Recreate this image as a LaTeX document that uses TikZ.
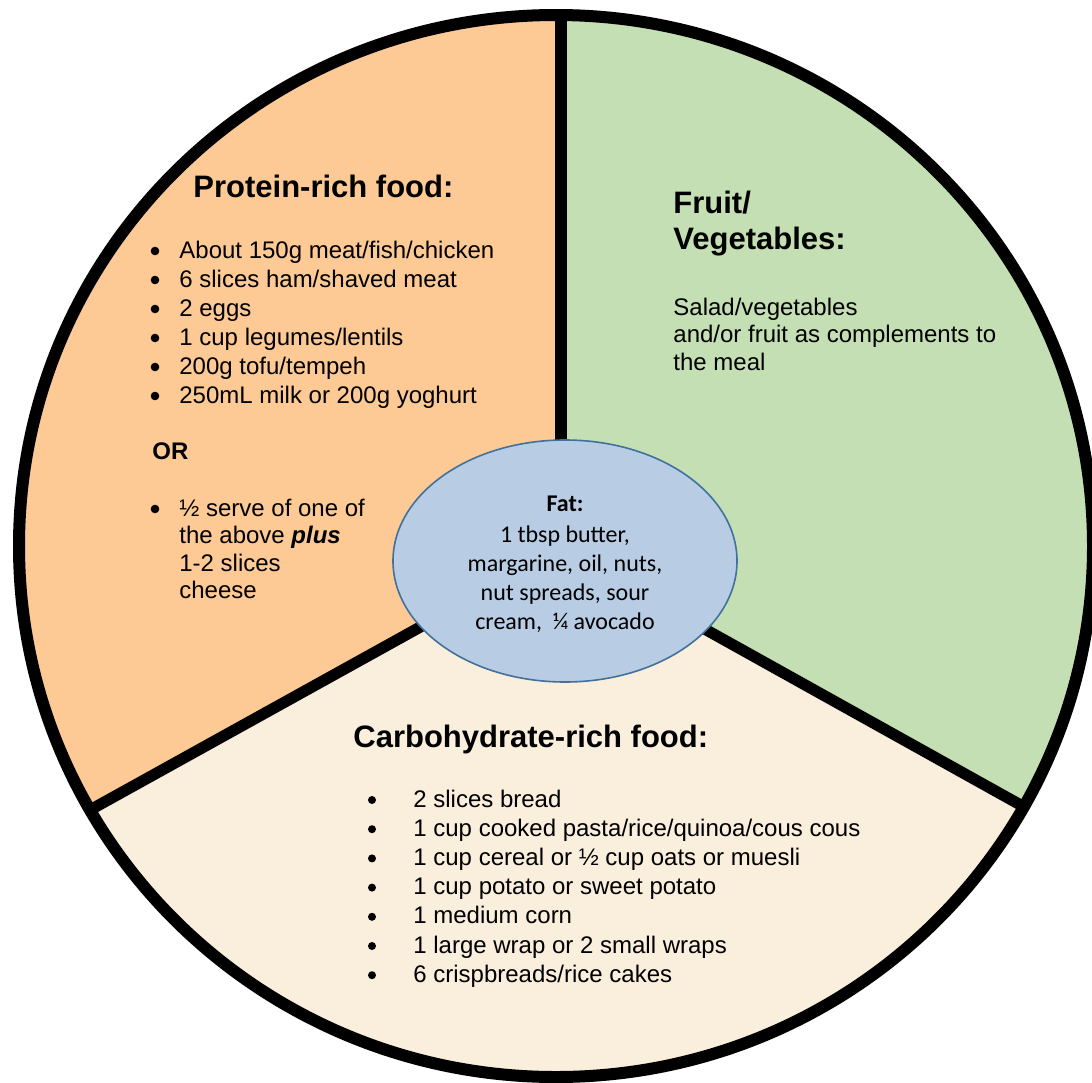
\documentclass[tikz,border=0pt]{standalone}
\usepackage{fontspec}
\setmainfont{Liberation Sans}
\newfontfamily\calibrifont{Carlito}
\usepackage{xcolor}
\definecolor{ProteinOrange}{HTML}{FDC994}
\definecolor{FruitGreen}{HTML}{C4DFB4}
\definecolor{CarbCream}{HTML}{FAEEDD}
\definecolor{FatBlue}{HTML}{B8CCE4}
\definecolor{FatEdge}{HTML}{41719C}
\usepackage{tikz}
\usetikzlibrary{calc,shapes.geometric}
\tikzset{
  pphead/.style={anchor=base west, inner sep=0pt, font=\fontsize{15.5}{18}\selectfont\bfseries},
  pptext/.style={anchor=base west, inner sep=0pt, font=\fontsize{12}{14.5}\selectfont},
  ppdot/.style={fill=black},
  ppdivider/.style={line width=5.6pt, line cap=butt, black},
  pprim/.style={line width=6pt, black},
  ppfat/.style={ellipse, draw=FatEdge, fill=FatBlue, line width=0.8pt,
                minimum width=172pt, minimum height=121pt, inner sep=0pt},
  fattext/.style={anchor=base, inner sep=0pt, font=\calibrifont\fontsize{12}{14.5}\selectfont}
}

\begin{document}
\begin{tikzpicture}[x=0.5pt, y=-0.5pt]
\useasboundingbox[fill=white] (0,0) rectangle (1092,1082);

\coordinate (hub) at (561,549);
\coordinate (rimtop) at (561,15);
\coordinate (rimleft) at (90,810);
\coordinate (rimright) at (1026,808);
\begin{scope}
  \clip (556,546) ellipse [x radius=537, y radius=531];
  \fill[ProteinOrange] (hub) -- (561,-20) -- (-60,-20) -- ($(hub)!1.3!(rimleft)$) -- cycle;
  \fill[FruitGreen] (hub) -- (561,-20) -- (1170,-20) -- ($(hub)!1.3!(rimright)$) -- cycle;
  \fill[CarbCream] (hub) -- ($(hub)!1.3!(rimleft)$) -- (-60,1100) -- (1170,1100)
    -- ($(hub)!1.3!(rimright)$) -- cycle;
\end{scope}
\draw[ppdivider] (hub) -- (rimtop);
\draw[ppdivider] (hub) -- (rimleft);
\draw[ppdivider] (hub) -- (rimright);
\draw[pprim] (556,546) ellipse [x radius=537, y radius=531];

\node[ppfat] (fat) at (565,561) {};
\node[fattext, font=\calibrifont\fontsize{12}{14.5}\selectfont\bfseries] (fathead) at (565,511) {Fat:};
\foreach \t [count=\i] in {{1 tbsp butter,}, {margarine, oil, nuts,}, {nut spreads, sour}, {cream,\ \ ¼ avocado}}
  \node[fattext] (fat\i) at (565,{542+29*(\i-1)}) {\t};

\node[pphead] (proteinhead) at (193,197) {Protein-rich food:};
\foreach \t [count=\i] in {About 150g meat/fish/chicken, 6 slices ham/shaved meat, 2 eggs,
    1 cup legumes/lentils, 200g tofu/tempeh, 250mL milk or 200g yoghurt}{
  \node[pptext] (protein\i) at (179,{258+29*(\i-1)}) {\t};
  \fill[ppdot] ($(protein\i.base west)+(-24,-7)$) circle [radius=4.3];
}
\node[pptext, font=\fontsize{12}{14.5}\selectfont\bfseries] (orword) at (152,459) {OR};
\foreach \t [count=\i] in {½ serve of one of, {the above \textbf{\textit{plus}}}, 1-2 slices, cheese}
  \node[pptext] (half\i) at (179,{516+27.5*(\i-1)}) {\t};
\fill[ppdot] ($(half1.base west)+(-24,-7)$) circle [radius=4.3];

\node[pphead] (fruithead) at (673,213) {Fruit/};
\node[pphead] (veghead) at (673,249) {Vegetables:};
\foreach \t [count=\i] in {Salad/vegetables, and/or fruit as complements to, the meal}
  \node[pptext] (fruit\i) at (673,{315+27.5*(\i-1)}) {\t};

\node[pphead] (carbhead) at (353,747) {Carbohydrate-rich food:};
\foreach \t [count=\i] in {2 slices bread, 1 cup cooked pasta/rice/quinoa/cous cous,
    1 cup cereal or ½ cup oats or muesli, 1 cup potato or sweet potato, 1 medium corn,
    1 large wrap or 2 small wraps, 6 crispbreads/rice cakes}{
  \node[pptext] (carb\i) at (413,{807+29.2*(\i-1)}) {\t};
  \fill[ppdot] ($(carb\i.base west)+(-41,-7)$) circle [radius=4];
}
\end{tikzpicture}
\end{document}
